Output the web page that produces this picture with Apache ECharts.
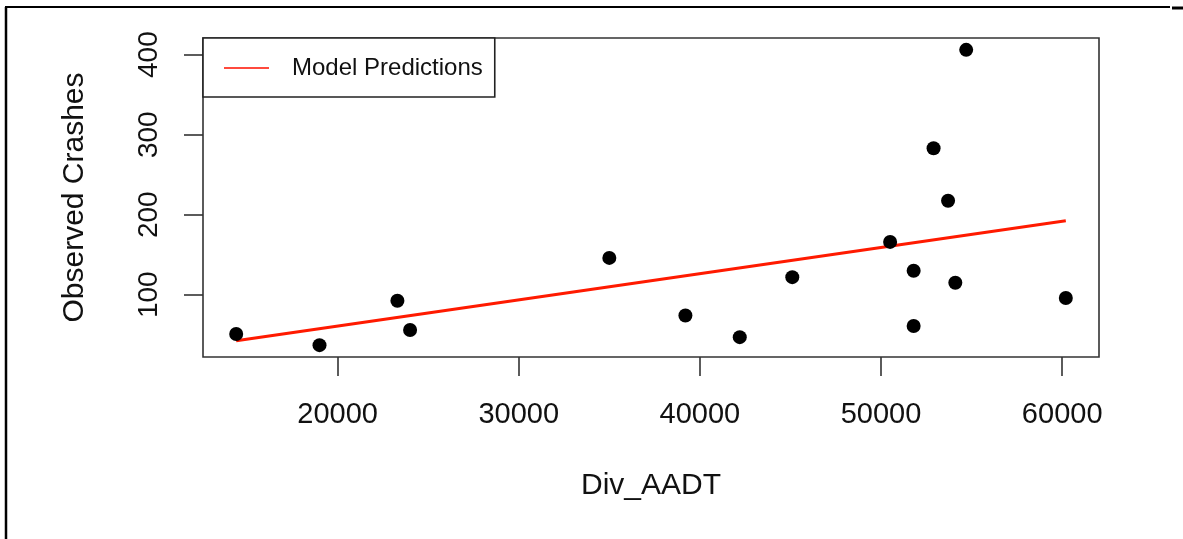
<!DOCTYPE html>
<html>
<head>
<meta charset="utf-8">
<script src="https://cdn.jsdelivr.net/npm/echarts@6/dist/echarts.min.js"></script>
<style>
  html, body { margin: 0; padding: 0; background: #fff; }
  #chart { width: 1183px; height: 539px; }
</style>
</head>
<body>
<div id="chart"></div>
<script>
// observed crashes vs divided AADT
const aadt = [14400, 19000, 23300, 24000, 35000, 39200, 42200, 45100, 50500, 51800, 51800, 52900, 53700, 54100, 54700, 60200];
const crashes = [51, 37, 92.5, 56, 146, 74, 47, 122, 166, 130, 61, 283, 217.5, 115, 406, 96];

// fitted model line (end points)
const modelX = [14400, 60200];
const modelY = [42.5, 192.5];

const xTicks = [20000, 30000, 40000, 50000, 60000];
const yTicks = [100, 200, 300, 400];

const font = 'Liberation Sans, Arial, Helvetica, sans-serif';

const chart = echarts.init(document.getElementById('chart'));

const option = {
  backgroundColor: '#fff',
  animation: false,
  grid: {
    left: 203, top: 38, right: 84, bottom: 182,
    show: true,
    borderColor: '#333',
    borderWidth: 1.6,
    backgroundColor: 'transparent'
  },
  legend: {
    left: 203, top: 38,
    orient: 'vertical',
    data: [{ name: 'Model Predictions', icon: 'rect' }],
    itemWidth: 45,
    itemHeight: 2,
    padding: [18, 12, 17, 21],
    borderColor: '#222',
    borderWidth: 1.6,
    backgroundColor: '#fff',
    itemStyle: { color: '#ff4a3d' },
    textStyle: { fontFamily: font, fontSize: 24, color: '#111', padding: [0, 0, 0, 18] }
  },
  xAxis: {
    type: 'value',
    min: 12568, max: 62032,
    name: 'Div_AADT',
    nameLocation: 'middle',
    nameGap: 114,
    nameTextStyle: { fontFamily: font, fontSize: 30, color: '#111' },
    axisLine: { show: false },
    splitLine: { show: false },
    axisTick: { show: true, customValues: xTicks, length: 19, lineStyle: { color: '#333', width: 1.6 } },
    axisLabel: {
      customValues: xTicks, formatter: v => String(v),
      fontFamily: font, fontSize: 29, color: '#111', margin: 43
    }
  },
  yAxis: {
    type: 'value',
    min: 22.2, max: 420.8,
    name: 'Observed Crashes',
    nameLocation: 'middle',
    nameRotate: 90,
    nameGap: 113,
    nameTextStyle: { fontFamily: font, fontSize: 30, color: '#111' },
    axisLine: { show: false },
    splitLine: { show: false },
    axisTick: { show: true, customValues: yTicks, length: 19, lineStyle: { color: '#333', width: 1.6 } },
    axisLabel: { customValues: yTicks, rotate: 90, fontFamily: font, fontSize: 28, color: '#111', margin: 40 }
  },
  series: [
    {
      name: 'Observed',
      type: 'scatter',
      data: aadt.map((x, i) => [x, crashes[i]]),
      symbol: 'circle',
      symbolSize: 14,
      itemStyle: { color: '#000', opacity: 1 },
      z: 3
    },
    {
      name: 'Model Predictions',
      type: 'line',
      data: modelX.map((x, i) => [x, modelY[i]]),
      showSymbol: false,
      lineStyle: { color: '#ff1a00', width: 3 },
      z: 2
    }
  ],
  graphic: [
    { type: 'line', shape: { x1: 5, y1: 7, x2: 1170, y2: 7 }, style: { stroke: '#000', lineWidth: 2 } },
    { type: 'line', shape: { x1: 6, y1: 7, x2: 6, y2: 539 }, style: { stroke: '#000', lineWidth: 2.5 } },
    { type: 'line', shape: { x1: 1172, y1: 8, x2: 1183, y2: 8 }, style: { stroke: '#000', lineWidth: 3 } }
  ]
};

chart.setOption(option);

window.addEventListener('resize', () => {
  chart.resize();
});
</script>
</body>
</html>
